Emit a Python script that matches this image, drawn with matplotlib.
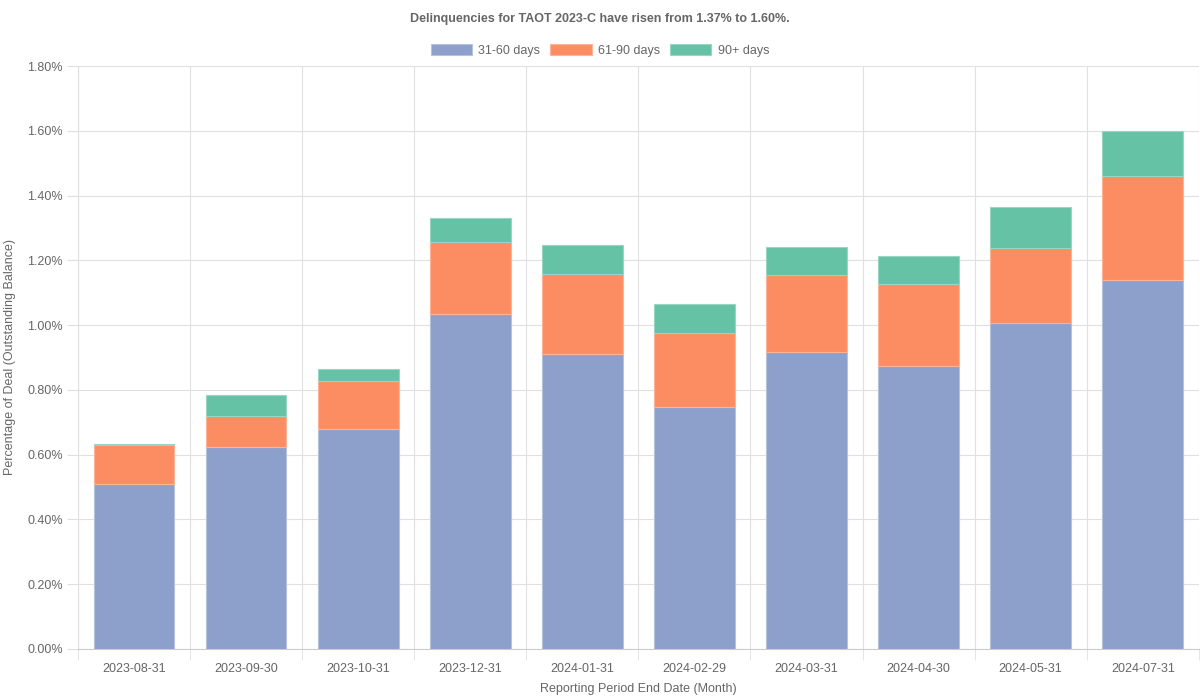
import numpy as np
import matplotlib.pyplot as plt
from matplotlib.ticker import FuncFormatter, FixedLocator

plt.rcParams['font.family'] = ['Liberation Sans', 'DejaVu Sans']

dates = ["2023-08-31", "2023-09-30", "2023-10-31", "2023-12-31", "2024-01-31",
         "2024-02-29", "2024-03-31", "2024-04-30", "2024-05-31", "2024-07-31"]
d31_60 = [0.508, 0.623, 0.678, 1.035, 0.910, 0.747, 0.916, 0.875, 1.006, 1.140]
d61_90 = [0.123, 0.097, 0.149, 0.223, 0.248, 0.229, 0.238, 0.253, 0.233, 0.319]
d90p = [0.003, 0.063, 0.037, 0.072, 0.089, 0.090, 0.088, 0.086, 0.126, 0.141]

c_blue = "#8da0cb"
c_orange = "#fc8d62"
c_green = "#66c2a5"
txt = "#666666"
grid = "#e0e0e0"

fig = plt.figure(figsize=(12, 7), dpi=100)
ax = fig.add_axes([0.065, 0.0729, 0.934, 0.8328])

x = np.arange(len(dates))
w = 0.72
b1 = np.array(d31_60)
b2 = b1 + np.array(d61_90)
ax.bar(x, d31_60, w, color=c_blue, edgecolor="#b7c3dd", linewidth=0.8, label="31-60 days", zorder=3)
ax.bar(x, d61_90, w, bottom=b1, color=c_orange, edgecolor="#fdb396", linewidth=0.8, label="61-90 days", zorder=3)
ax.bar(x, d90p, w, bottom=b2, color=c_green, edgecolor="#97d6c2", linewidth=0.8, label="90+ days", zorder=3)

ax.set_xlim(-0.5, len(dates) - 0.5)
ax.set_ylim(0, 1.8)
ax.set_yticks(np.arange(0, 1.81, 0.2))
ax.yaxis.set_major_formatter(FuncFormatter(lambda v, p: f"{v:.2f}%"))
ax.set_xticks(x)
ax.set_xticklabels(dates)
ax.xaxis.set_minor_locator(FixedLocator(np.arange(-0.5, len(dates), 1.0)))

ax.grid(True, axis="y", color=grid, linewidth=0.8, zorder=0)
ax.grid(True, axis="x", which="minor", color=grid, linewidth=0.8, zorder=0)
ax.tick_params(axis="x", which="major", length=0, pad=10, labelsize=9, labelcolor=txt)
ax.tick_params(axis="x", which="minor", length=8, color=grid)
ax.tick_params(axis="y", length=8, color=grid, labelsize=9, labelcolor=txt, pad=3)

for s in ["top", "right"]:
    ax.spines[s].set_visible(False)
ax.spines["left"].set_color(grid)
ax.spines["bottom"].set_color("#cccccc")

ax.set_xlabel("Reporting Period End Date (Month)", fontsize=9, color=txt, labelpad=6)
ax.set_ylabel("Percentage of Deal (Outstanding Balance)", fontsize=9, color=txt, labelpad=8)

fig.suptitle("Delinquencies for TAOT 2023-C have risen from 1.37% to 1.60%.",
             fontsize=9, fontweight="bold", color=txt, y=0.982)
fig.legend(loc="center", bbox_to_anchor=(0.5, 0.928), ncol=3, frameon=False,
           fontsize=9, labelcolor=txt, handlelength=3.3, handleheight=0.9,
           columnspacing=0.8, handletextpad=0.5)

fig.savefig("out.png", dpi=100)
